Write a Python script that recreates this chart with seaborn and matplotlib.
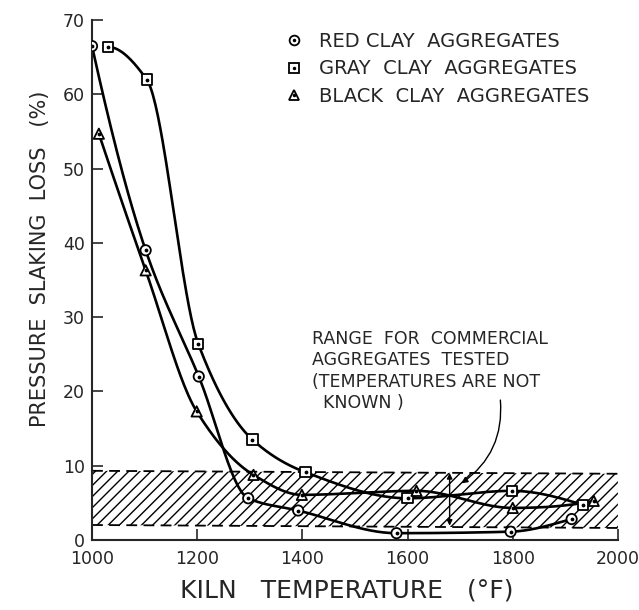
import numpy as np
import matplotlib
matplotlib.use("Agg")
import matplotlib.pyplot as plt
import seaborn as sns
import pandas as pd
from matplotlib.lines import Line2D
from matplotlib.legend_handler import HandlerTuple

# values (kiln temperature in deg F, slaking loss in %)
red_temp = [1000, 1102, 1203, 1297, 1392, 1579, 1796, 1912]
red_loss = [66.5, 39.0, 22.0, 5.6, 3.95, 0.9, 1.1, 2.8]
gray_temp = [1030, 1104, 1202, 1305, 1406, 1600, 1799, 1934]
gray_loss = [66.4, 62.0, 26.4, 13.5, 9.1, 5.6, 6.6, 4.7]
black_temp = [1013, 1102, 1199, 1307, 1399, 1617, 1800, 1954]
black_loss = [54.7, 36.3, 17.3, 8.75, 6.06, 6.6, 4.3, 5.25]

# commercial aggregate range band
band_temp = [1000, 2000]
band_low = [2.0, 1.6]
band_high = [9.3, 8.9]

labels = ["RED CLAY  AGGREGATES", "GRAY  CLAY  AGGREGATES", "BLACK  CLAY  AGGREGATES"]
markers = ["o", "s", "^"]

df = pd.concat([
    pd.DataFrame({"temp": red_temp, "loss": red_loss, "clay": labels[0]}),
    pd.DataFrame({"temp": gray_temp, "loss": gray_loss, "clay": labels[1]}),
    pd.DataFrame({"temp": black_temp, "loss": black_loss, "clay": labels[2]}),
])

sns.set_style("ticks")
plt.rcParams['font.family'] = ['DejaVu Sans']
plt.rcParams['hatch.linewidth'] = 1.0
plt.rcParams['hatch.color'] = 'black'


def smooth_curve(xs, ys, n=400):
    # monotone cubic (pchip) through the read points, only for drawing the line
    x = np.asarray(xs, float)
    y = np.asarray(ys, float)
    h = np.diff(x)
    d = np.diff(y) / h
    m = np.zeros_like(x)
    for k in range(1, len(x) - 1):
        if d[k - 1] * d[k] > 0:
            w1 = 2 * h[k] + h[k - 1]
            w2 = h[k] + 2 * h[k - 1]
            m[k] = (w1 + w2) / (w1 / d[k - 1] + w2 / d[k])

    def end_slope(h0, h1, d0, d1):
        s = ((2 * h0 + h1) * d0 - h0 * d1) / (h0 + h1)
        if np.sign(s) != np.sign(d0):
            s = 0.0
        elif np.sign(d0) != np.sign(d1) and abs(s) > abs(3 * d0):
            s = 3 * d0
        return s

    m[0] = end_slope(h[0], h[1], d[0], d[1])
    m[-1] = end_slope(h[-1], h[-2], d[-1], d[-2])
    xx = np.linspace(x[0], x[-1], n)
    i = np.clip(np.searchsorted(x, xx) - 1, 0, len(h) - 1)
    t = (xx - x[i]) / h[i]
    yy = ((2 * t**3 - 3 * t**2 + 1) * y[i] + (t**3 - 2 * t**2 + t) * h[i] * m[i]
          + (-2 * t**3 + 3 * t**2) * y[i + 1] + (t**3 - t**2) * h[i] * m[i + 1])
    return xx, yy


fig = plt.figure(figsize=(6.39, 6.10), dpi=100)
ax = fig.add_axes([0.144, 0.115, 0.823, 0.852])

# hatched band
ax.fill_between(band_temp, band_low, band_high, facecolor='none', edgecolor='black',
                linewidth=0, hatch='///')
ax.plot(band_temp, band_low, color='black', lw=1.3, ls=(0, (6, 3.5)))
ax.plot(band_temp, band_high, color='black', lw=1.3, ls=(0, (6, 3.5)))

# curves
for xs, ys in [(red_temp, red_loss), (gray_temp, gray_loss), (black_temp, black_loss)]:
    cx, cy = smooth_curve(xs, ys)
    ax.plot(cx, cy, color='black', lw=1.9, solid_capstyle='round')

# markers
sns.scatterplot(data=df, x="temp", y="loss", style="clay", markers=markers,
                s=55, color='white', edgecolor='black', linewidth=1.3,
                legend=False, ax=ax, zorder=3)
ax.scatter(df["temp"], df["loss"], s=3, color='black', zorder=4)

# legend
handles = []
for m in markers:
    h1 = Line2D([], [], ls='none', marker=m, markersize=7, markerfacecolor='white',
                markeredgecolor='black', markeredgewidth=1.3)
    h2 = Line2D([], [], ls='none', marker='.', markersize=3, color='black')
    handles.append((h1, h2))
ax.legend(handles, labels, handler_map={tuple: HandlerTuple(ndivide=1)},
          loc='upper left', bbox_to_anchor=(0.366, 0.978), frameon=False,
          fontsize=14, handlelength=0.95, handletextpad=0.8, labelspacing=0.45,
          borderpad=0, borderaxespad=0)

# annotation
ax.text(1418, 28.3, "RANGE  FOR  COMMERCIAL\nAGGREGATES  TESTED\n(TEMPERATURES ARE NOT\n  KNOWN )",
        fontsize=12.5, va='top', ha='left', linespacing=1.25)
ax.annotate("", xy=(1698, 7.4), xytext=(1776, 19.2),
            arrowprops=dict(arrowstyle='-|>', color='black', lw=1.0,
                            connectionstyle='arc3,rad=-0.3', mutation_scale=9))
ax.annotate("", xy=(1680, 1.9), xytext=(1680, 9.0),
            arrowprops=dict(arrowstyle='<|-|>', color='black', lw=1.0,
                            mutation_scale=8, shrinkA=0, shrinkB=0))

ax.set_xlim(1000, 2000)
ax.set_ylim(0, 70)
ax.set_xticks(range(1000, 2001, 200))
ax.set_yticks(range(0, 71, 10))
ax.tick_params(axis='both', direction='in', length=8, width=1.2, labelsize=12.5)
ax.tick_params(axis='x', pad=7)
ax.tick_params(axis='y', pad=5)
sns.despine(ax=ax)
ax.spines['left'].set_linewidth(1.5)
ax.spines['bottom'].set_linewidth(1.5)

ax.set_xlabel("KILN   TEMPERATURE   (°F)", fontsize=18)
ax.set_ylabel("PRESSURE  SLAKING  LOSS   (%)", fontsize=15)
ax.xaxis.set_label_coords(0.485, -0.075)
ax.yaxis.set_label_coords(-0.08, 0.54)

fig.savefig("out.png", dpi=100)
